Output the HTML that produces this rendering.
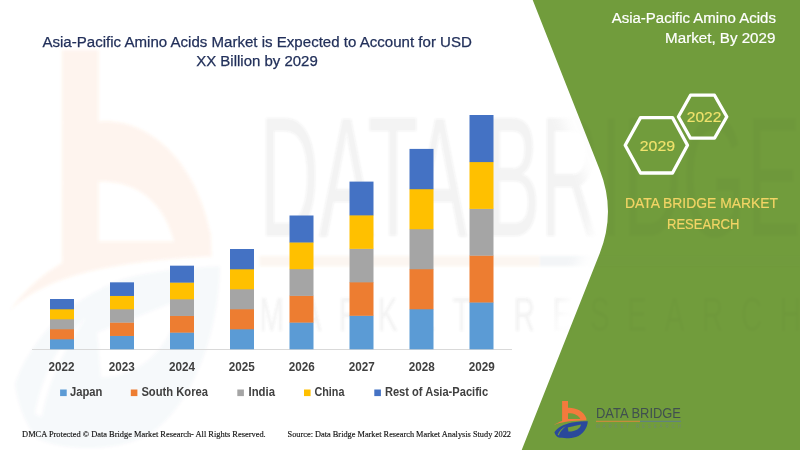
<!DOCTYPE html>
<html>
<head>
<meta charset="utf-8">
<title>Asia-Pacific Amino Acids Market</title>
<style>
html,body{margin:0;padding:0;background:#fff;}
body{width:800px;height:450px;overflow:hidden;position:relative;font-family:"Liberation Sans",sans-serif;}
svg{position:absolute;left:0;top:0;display:block;}
text{font-family:"Liberation Sans",sans-serif;}
.serif{font-family:"Liberation Serif",serif;}
</style>
</head>
<body>
<svg width="800" height="450" viewBox="0 0 800 450">
  <defs>
    <filter id="blur2" x="-20%" y="-20%" width="140%" height="140%"><feGaussianBlur stdDeviation="1.6"/></filter>
    <filter id="blur1" x="-20%" y="-20%" width="140%" height="140%"><feGaussianBlur stdDeviation="1.2"/></filter>
    <filter id="soft" x="-5%" y="-5%" width="110%" height="110%"><feGaussianBlur stdDeviation="0.45"/></filter>
    <filter id="txt" x="-2%" y="-20%" width="104%" height="140%"><feGaussianBlur stdDeviation="0.3"/></filter>
    <path id="logoO" fill-rule="evenodd" fill="#f47a3c" d="M8.1,0 L14,0 L14,6.7 C21,6.3 29.5,9.5 32.3,17.3 L32.4,19.3 C20,19.6 6,20.6 -0.5,24.4 C2,22.4 5,20.9 8.1,19.9 Z M14,12.3 C20,12.2 24.5,14 26.3,17.9 L14,17.9 Z"/>
    <path id="logoB" fill-rule="evenodd" fill="#2b4a9b" d="M0.4,31.2 C3,27 9,23.3 18,21.4 C23,20.6 29,20.3 33.8,20.2 C33.5,27 29,33.5 22,36 C17,37.5 9,37.6 4,36.3 C2,35 0.8,33 0.4,31.2 Z M3.6,34 C5,30 8,27 12,25 C9,27.5 6,30.5 4.8,34.3 Z M13.8,26.4 L27,23.4 C26.5,27 22,30.5 14.4,30.6 Z"/>
    <g id="logotext">
      <text x="42" y="17" font-size="14.4" fill="currentColor" textLength="85" lengthAdjust="spacingAndGlyphs">DATA BRIDGE</text>
    </g>
    <g id="logosub">
      <rect x="42" y="19.8" width="44" height="1" fill="#d98b3c"/>
      <rect x="86" y="19.8" width="41" height="1" fill="#5f7f8f"/>
      <text x="42" y="27" font-size="4.6" fill="currentColor" textLength="85" lengthAdjust="spacing">MARKET RESEARCH</text>
    </g>
    <filter id="blur6" x="-30%" y="-10%" width="160%" height="120%"><feGaussianBlur stdDeviation="6"/></filter>
    <clipPath id="gclip"><path d="M532.7,0 L599.7,169.7 Q616.3,211.7 599.6,253.7 L521.7,450 L800,450 L800,0 Z"/></clipPath>
  </defs>
  <rect x="0" y="0" width="800" height="450" fill="#ffffff"/>

  <!-- faint watermark (stretched copy of logo) -->
  <g filter="url(#blur2)">
    <use href="#logoO" transform="translate(12.5,50) scale(6.14,10.7)" opacity="0.085"/>
    <use href="#logoB" transform="translate(12.5,50) scale(6.14,10.7)" opacity="0.035"/>
  </g>
  <g filter="url(#blur1)">
    <use href="#logotext" transform="translate(-8,33.7) scale(6.37,11.9)" opacity="0.065" color="#505050"/>
    <use href="#logosub" transform="translate(-8,50) scale(6.37,10.4)" opacity="0.075" color="#555555"/>
  </g>

  <!-- white glow along green edge -->
  <path d="M532.7,0 L599.7,169.7 Q616.3,211.7 599.6,253.7 L521.7,450" fill="none" stroke="#ffffff" stroke-width="34" filter="url(#blur6)" opacity="0.9"/>
  <!-- green panel -->
  <path d="M532.7,0 L599.7,169.7 Q616.3,211.7 599.6,253.7 L521.7,450 L800,450 L800,0 Z" fill="#719c3c"/>

  <!-- faint watermark continuing over green -->
  <g clip-path="url(#gclip)" filter="url(#blur1)">
    <use href="#logotext" transform="translate(-8,33.7) scale(6.37,11.9)" opacity="0.022" color="#203010"/>
    <use href="#logosub" transform="translate(-8,50) scale(6.37,10.4)" opacity="0.025"/>
  </g>

  <!-- axis line -->
  <rect x="32" y="349" width="480" height="1" fill="#d9d9d9"/>

  <!-- bars -->
  <g id="bars">
    <rect x="50" y="339.00" width="24" height="10.30" fill="#5b9bd5"/>
    <rect x="50" y="329.00" width="24" height="10.30" fill="#ed7d31"/>
    <rect x="50" y="319.00" width="24" height="10.30" fill="#a5a5a5"/>
    <rect x="50" y="309.00" width="24" height="10.30" fill="#ffc000"/>
    <rect x="50" y="299.00" width="24" height="10.30" fill="#4472c4"/>
    <rect x="110" y="335.67" width="24" height="13.63" fill="#5b9bd5"/>
    <rect x="110" y="322.33" width="24" height="13.63" fill="#ed7d31"/>
    <rect x="110" y="309.00" width="24" height="13.63" fill="#a5a5a5"/>
    <rect x="110" y="295.66" width="24" height="13.63" fill="#ffc000"/>
    <rect x="110" y="282.33" width="24" height="13.63" fill="#4472c4"/>
    <rect x="170" y="332.33" width="24" height="16.97" fill="#5b9bd5"/>
    <rect x="170" y="315.67" width="24" height="16.97" fill="#ed7d31"/>
    <rect x="170" y="299.00" width="24" height="16.97" fill="#a5a5a5"/>
    <rect x="170" y="282.34" width="24" height="16.97" fill="#ffc000"/>
    <rect x="170" y="265.67" width="24" height="16.97" fill="#4472c4"/>
    <rect x="230" y="329.00" width="24" height="20.30" fill="#5b9bd5"/>
    <rect x="230" y="309.00" width="24" height="20.30" fill="#ed7d31"/>
    <rect x="230" y="289.00" width="24" height="20.30" fill="#a5a5a5"/>
    <rect x="230" y="269.00" width="24" height="20.30" fill="#ffc000"/>
    <rect x="230" y="249.00" width="24" height="20.30" fill="#4472c4"/>
    <rect x="289.5" y="322.30" width="24" height="27.00" fill="#5b9bd5"/>
    <rect x="289.5" y="295.60" width="24" height="27.00" fill="#ed7d31"/>
    <rect x="289.5" y="268.90" width="24" height="27.00" fill="#a5a5a5"/>
    <rect x="289.5" y="242.20" width="24" height="27.00" fill="#ffc000"/>
    <rect x="289.5" y="215.50" width="24" height="27.00" fill="#4472c4"/>
    <rect x="349.5" y="315.52" width="24" height="33.78" fill="#5b9bd5"/>
    <rect x="349.5" y="282.04" width="24" height="33.78" fill="#ed7d31"/>
    <rect x="349.5" y="248.56" width="24" height="33.78" fill="#a5a5a5"/>
    <rect x="349.5" y="215.08" width="24" height="33.78" fill="#ffc000"/>
    <rect x="349.5" y="181.60" width="24" height="33.78" fill="#4472c4"/>
    <rect x="409.5" y="308.98" width="24" height="40.32" fill="#5b9bd5"/>
    <rect x="409.5" y="268.96" width="24" height="40.32" fill="#ed7d31"/>
    <rect x="409.5" y="228.94" width="24" height="40.32" fill="#a5a5a5"/>
    <rect x="409.5" y="188.92" width="24" height="40.32" fill="#ffc000"/>
    <rect x="409.5" y="148.90" width="24" height="40.32" fill="#4472c4"/>
    <rect x="469.5" y="302.20" width="24" height="47.10" fill="#5b9bd5"/>
    <rect x="469.5" y="255.40" width="24" height="47.10" fill="#ed7d31"/>
    <rect x="469.5" y="208.60" width="24" height="47.10" fill="#a5a5a5"/>
    <rect x="469.5" y="161.80" width="24" height="47.10" fill="#ffc000"/>
    <rect x="469.5" y="115.00" width="24" height="47.10" fill="#4472c4"/>
  </g>

  <!-- year labels -->
  <g id="years" filter="url(#txt)">
    <text x="61.5" y="371" font-size="12" font-weight="bold" fill="#404040" text-anchor="middle" textLength="26" lengthAdjust="spacingAndGlyphs">2022</text>
    <text x="121.8" y="371" font-size="12" font-weight="bold" fill="#404040" text-anchor="middle" textLength="26" lengthAdjust="spacingAndGlyphs">2023</text>
    <text x="182" y="371" font-size="12" font-weight="bold" fill="#404040" text-anchor="middle" textLength="26" lengthAdjust="spacingAndGlyphs">2024</text>
    <text x="241.8" y="371" font-size="12" font-weight="bold" fill="#404040" text-anchor="middle" textLength="26" lengthAdjust="spacingAndGlyphs">2025</text>
    <text x="301.8" y="371" font-size="12" font-weight="bold" fill="#404040" text-anchor="middle" textLength="26" lengthAdjust="spacingAndGlyphs">2026</text>
    <text x="361.8" y="371" font-size="12" font-weight="bold" fill="#404040" text-anchor="middle" textLength="26" lengthAdjust="spacingAndGlyphs">2027</text>
    <text x="421.8" y="371" font-size="12" font-weight="bold" fill="#404040" text-anchor="middle" textLength="26" lengthAdjust="spacingAndGlyphs">2028</text>
    <text x="481.7" y="371" font-size="12" font-weight="bold" fill="#404040" text-anchor="middle" textLength="26" lengthAdjust="spacingAndGlyphs">2029</text>
  </g>

  <!-- legend -->
  <g id="legend" filter="url(#txt)">
    <rect x="60.1" y="389.5" width="6.6" height="6.6" fill="#5b9bd5"/>
    <text x="70" y="396.2" font-size="12" font-weight="bold" fill="#404040" textLength="32.4" lengthAdjust="spacingAndGlyphs">Japan</text>
    <rect x="130.8" y="389.5" width="6.6" height="6.6" fill="#ed7d31"/>
    <text x="141.4" y="396.2" font-size="12" font-weight="bold" fill="#404040" textLength="66.6" lengthAdjust="spacingAndGlyphs">South Korea</text>
    <rect x="237.3" y="389.5" width="6.6" height="6.6" fill="#a5a5a5"/>
    <text x="248.5" y="396.2" font-size="12" font-weight="bold" fill="#404040" textLength="26.5" lengthAdjust="spacingAndGlyphs">India</text>
    <rect x="304" y="389.5" width="6.6" height="6.6" fill="#ffc000"/>
    <text x="314.4" y="396.2" font-size="12" font-weight="bold" fill="#404040" textLength="30.0" lengthAdjust="spacingAndGlyphs">China</text>
    <rect x="374.3" y="389.5" width="6.6" height="6.6" fill="#4472c4"/>
    <text x="384.9" y="396.2" font-size="12" font-weight="bold" fill="#404040" textLength="103.2" lengthAdjust="spacingAndGlyphs">Rest of Asia-Pacific</text>
  </g>

  <!-- title -->
  <g id="title" filter="url(#txt)" fill="#22305a" stroke="#22305a" stroke-width="0.25" font-size="14.7">
    <text x="42.4" y="46.6" textLength="429.5" lengthAdjust="spacingAndGlyphs">Asia-Pacific Amino Acids Market is Expected to Account for USD</text>
    <text x="196.2" y="65.8" textLength="121.6" lengthAdjust="spacingAndGlyphs">XX Billion by 2029</text>
  </g>

  <!-- right panel title -->
  <g id="rtitle" filter="url(#txt)" fill="#ffffff" stroke="#ffffff" stroke-width="0.2" font-size="14.7">
    <text x="611.7" y="22.8" textLength="164.2" lengthAdjust="spacingAndGlyphs">Asia-Pacific Amino Acids</text>
    <text x="665.1" y="42.8" textLength="110.3" lengthAdjust="spacingAndGlyphs">Market, By 2029</text>
  </g>

  <!-- hexagons -->
  <g id="hex" fill="none" stroke="#ffffff" stroke-width="3.3" stroke-linejoin="round">
    <path d="M678.4,116.7 L690.5,95.2 L714.5,95.2 L726.8,116.7 L714.5,138.2 L690.5,138.2 Z"/>
    <path d="M625.2,145.3 L640.5,117.6 L672.5,117.6 L687.5,145.3 L672.5,173 L640.5,173 Z" fill="#719c3c"/>
  </g>
  <g id="hextext" filter="url(#txt)" fill="#f1e36c" stroke="#f1e36c" stroke-width="0.15" font-size="15.3">
    <text x="639.8" y="150.6" textLength="35.2" lengthAdjust="spacingAndGlyphs">2029</text>
    <text x="686.8" y="122.3" textLength="34.6" lengthAdjust="spacingAndGlyphs">2022</text>
  </g>

  <!-- DBMR label -->
  <g id="dbmr" filter="url(#txt)" fill="#f2d465" stroke="#f2d465" stroke-width="0.2" font-size="14.2">
    <text x="625" y="208.3" textLength="153" lengthAdjust="spacingAndGlyphs">DATA BRIDGE MARKET</text>
    <text x="667" y="228.6" textLength="72.4" lengthAdjust="spacingAndGlyphs">RESEARCH</text>
  </g>

  <!-- footer -->
  <g id="footer" filter="url(#txt)" class="serif" fill="#111111" font-size="8.6" stroke="#111111" stroke-width="0.15">
    <text class="serif" x="22.1" y="436.7" textLength="243.6" lengthAdjust="spacingAndGlyphs">DMCA Protected © Data Bridge Market Research- All Rights Reserved.</text>
    <text class="serif" x="287.6" y="436.7" textLength="223.4" lengthAdjust="spacingAndGlyphs">Source: Data Bridge Market Research Market Analysis Study 2022</text>
  </g>

  <!-- logo -->
  <g filter="url(#soft)">
    <use href="#logoO" transform="translate(554,401)"/>
    <use href="#logoB" transform="translate(554,401)"/>
    <use href="#logotext" transform="translate(554,401)" color="#40504f"/>
    <use href="#logosub" transform="translate(554,401)" color="#6f8a6a"/>
  </g>
</svg>
</body>
</html>
